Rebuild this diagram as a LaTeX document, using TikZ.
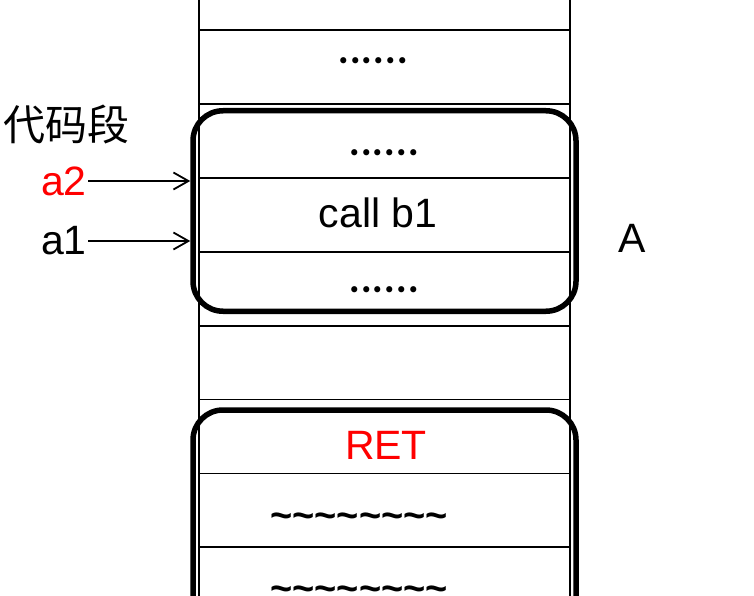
\documentclass[tikz,border=0pt]{standalone}
\usepackage{fontspec}
\setmainfont{Liberation Sans}
\newfontfamily\cjk{Noto Sans CJK SC}
\newfontfamily\dotfont[LetterSpace=2.5]{Poppins}
\usetikzlibrary{arrows.meta}

\tikzstyle{cell} = [draw, line width=1.8pt, minimum width=371pt, minimum height=73.9pt, inner sep=0pt, outer sep=0pt]
\tikzstyle{frame} = [draw, line width=5.5pt, rounded corners=30pt, minimum width=383pt, inner sep=0pt]
\tikzstyle{arrow} = [line width=1.8pt, ->, >={Straight Barb[length=15pt,width=17pt]}]
\tikzstyle{txt} = [inner sep=1pt, font=\fontsize{41}{48}\selectfont]
\tikzstyle{dots} = [inner sep=0pt, font=\dotfont\fontsize{50}{54}\selectfont]
\tikzstyle{wave} = [inner sep=0pt, font=\bfseries\fontsize{38}{44}\selectfont]
\newcommand{\waves}{\textasciitilde\textasciitilde\textasciitilde\textasciitilde\textasciitilde\textasciitilde\textasciitilde\textasciitilde}

\begin{document}
\begin{tikzpicture}[x=1pt,y=-1pt]
			\clip (0,0) rectangle (754,596);
			\pgfmathsetmacro{\rowh}{73.9}
			% the column of cells
			\foreach \i in {0,...,8} {
			 \node (cell\i) [cell] at (384.5,{30+\rowh*\i-\rowh/2}) {};
			}
			% the two frames
			\node (frameA) [frame, minimum height=200.5pt] at (384.5,211) {};
			\node (frameB) [frame, minimum height=300pt] at (384.5,560) {};
			% cell texts
			\node (dots1) [dots] at (373,61) {......};
			\node (dots2) [dots] at (384,153) {......};
			\node (call) [txt] at (378,213) {call b1};
			\node (dots3) [dots] at (384,290) {......};
			\node (ret) [txt, text=red] at (386,445) {RET};
			\node (wave1) [wave] at (359,521) {\waves};
			\node (wave2) [wave] at (359,594) {\waves};
			% labels on the left and right
			\node (seg) [txt, font=\cjk\fontsize{42}{50}\selectfont] at (66,124) {代码段};
			\node (a2) [txt, text=red] at (64,181) {a2};
			\node (a1) [txt] at (64,241) {a1};
			\node (A) [txt] at (632,238) {A};
			\draw[arrow] (a2.east) -- (a2.east -| frameA.west);
			\draw[arrow] (a1.east) -- (a1.east -| frameA.west);
\end{tikzpicture}
\end{document}
